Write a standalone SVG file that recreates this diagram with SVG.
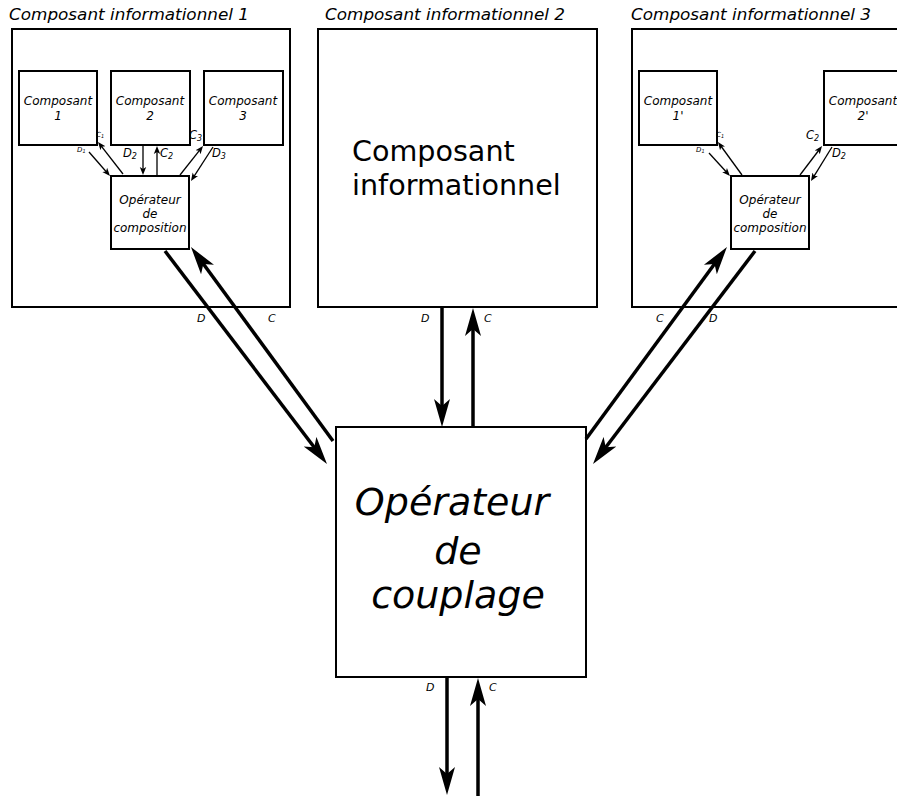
<svg xmlns="http://www.w3.org/2000/svg" width="897" height="796" viewBox="0 0 897 796">
<style>
.box{fill:#fff;stroke:#000;stroke-width:2}
.t{font-family:"DejaVu Sans","Liberation Sans",sans-serif;fill:#000}
.i{font-style:italic}
.big{fill:none;stroke:#000;stroke-width:3.5;marker-end:url(#ab)}
.sm{fill:none;stroke:#000;stroke-width:1.3;marker-end:url(#as)}
</style>
<defs>
<marker id="ab" viewBox="0 -9 30 18" markerWidth="30" markerHeight="18" markerUnits="userSpaceOnUse" refX="10" refY="0" orient="auto">
<path d="M28,0 L0,-8 L7,0 L0,8 Z" fill="#000"/>
</marker>
<marker id="as" viewBox="0 -4 9 8" markerWidth="9" markerHeight="8" markerUnits="userSpaceOnUse" refX="3" refY="0" orient="auto">
<path d="M8,0 L0,-3.2 L2,0 L0,3.2 Z" fill="#000"/>
</marker>
</defs>
<rect width="897" height="796" fill="#fff"/>

<g id="ci1">
<text class="t i" x="9" y="20" font-size="16" textLength="240" lengthAdjust="spacingAndGlyphs">Composant informationnel 1</text>
<rect class="box" x="12" y="29" width="278" height="278"/>
</g>
<g id="c1">
<rect class="box" x="19" y="71" width="78" height="74"/>
<text class="t i" x="58" y="105" font-size="12" text-anchor="middle">Composant</text>
<text class="t i" x="58" y="120" font-size="12" text-anchor="middle">1</text>
</g>
<g id="c2">
<rect class="box" x="111" y="71" width="79" height="74"/>
<text class="t i" x="150" y="105" font-size="12" text-anchor="middle">Composant</text>
<text class="t i" x="150" y="120" font-size="12" text-anchor="middle">2</text>
</g>
<g id="c3">
<rect class="box" x="204" y="71" width="79" height="74"/>
<text class="t i" x="243" y="105" font-size="12" text-anchor="middle">Composant</text>
<text class="t i" x="243" y="120" font-size="12" text-anchor="middle">3</text>
</g>
<g id="op1">
<rect class="box" x="111" y="176" width="78" height="73"/>
<text class="t i" x="150" y="204" font-size="12" text-anchor="middle">Opérateur</text>
<text class="t i" x="150" y="218" font-size="12" text-anchor="middle">de</text>
<text class="t i" x="150" y="232" font-size="12" text-anchor="middle">composition</text>
</g>

<g id="ci2">
<text class="t i" x="325" y="20" font-size="16" textLength="240" lengthAdjust="spacingAndGlyphs">Composant informationnel 2</text>
<rect class="box" x="318" y="29" width="279" height="278"/>
<text class="t" x="352" y="161" font-size="28.6">Composant</text>
<text class="t" x="352" y="195" font-size="28.6">informationnel</text>
</g>

<g id="ci3">
<text class="t i" x="631" y="20" font-size="16" textLength="240" lengthAdjust="spacingAndGlyphs">Composant informationnel 3</text>
<rect class="box" x="632" y="29" width="278" height="278"/>
</g>
<g id="c1p">
<rect class="box" x="639" y="71" width="78" height="74"/>
<text class="t i" x="678" y="105" font-size="12" text-anchor="middle">Composant</text>
<text class="t i" x="678" y="120" font-size="12" text-anchor="middle">1'</text>
</g>
<g id="c2p">
<rect class="box" x="824" y="71" width="78" height="74"/>
<text class="t i" x="863" y="105" font-size="12" text-anchor="middle">Composant</text>
<text class="t i" x="863" y="120" font-size="12" text-anchor="middle">2'</text>
</g>
<g id="op3">
<rect class="box" x="731" y="176" width="78" height="73"/>
<text class="t i" x="770" y="204" font-size="12" text-anchor="middle">Opérateur</text>
<text class="t i" x="770" y="218" font-size="12" text-anchor="middle">de</text>
<text class="t i" x="770" y="232" font-size="12" text-anchor="middle">composition</text>
</g>

<g id="couplage">
<rect class="box" x="336" y="427" width="250" height="250"/>
<text class="t i" x="452" y="515" font-size="38" text-anchor="middle">Opérateur</text>
<text class="t i" x="458" y="564" font-size="38" text-anchor="middle">de</text>
<text class="t i" x="458" y="608" font-size="38" text-anchor="middle">couplage</text>
</g>

<g id="connectors">
<line class="sm" x1="89" y1="152" x2="106.7" y2="172.2"/>
<line class="sm" x1="123" y1="174" x2="101.1" y2="145.9"/>
<line class="sm" x1="143" y1="145" x2="143" y2="170"/>
<line class="sm" x1="157" y1="176" x2="157" y2="151"/>
<line class="sm" x1="180" y1="175" x2="199.9" y2="149.9"/>
<line class="sm" x1="213" y1="147" x2="193.7" y2="176.8"/>

<line class="sm" x1="709" y1="153" x2="726.6" y2="172.3"/>
<line class="sm" x1="742" y1="175" x2="720.9" y2="146"/>
<line class="sm" x1="800" y1="175" x2="819" y2="150"/>
<line class="sm" x1="832" y1="147" x2="813.6" y2="176.8"/>

<line class="big" x1="165" y1="251" x2="316.1" y2="449.7"/>
<line class="big" x1="333" y1="441" x2="201.6" y2="261.5"/>
<line class="big" x1="442" y1="307" x2="442" y2="409"/>
<line class="big" x1="473" y1="427" x2="473" y2="326"/>
<line class="big" x1="586" y1="439" x2="716.3" y2="261.5"/>
<line class="big" x1="755" y1="251" x2="603.9" y2="449.7"/>
<line class="big" x1="447" y1="677" x2="447" y2="777"/>
<line class="big" x1="478" y1="796" x2="478" y2="696"/>

<g class="t i">
<text x="96" y="137" font-size="7">C<tspan font-size="5" dy="1">1</tspan></text>
<text x="77" y="152" font-size="7">D<tspan font-size="5" dy="1">1</tspan></text>
<text x="123" y="157" font-size="11.5">D<tspan font-size="8" dy="2">2</tspan></text>
<text x="160" y="157" font-size="11.5">C<tspan font-size="8" dy="2">2</tspan></text>
<text x="189" y="139" font-size="11.5">C<tspan font-size="8" dy="2">3</tspan></text>
<text x="212" y="157" font-size="11.5">D<tspan font-size="8" dy="2">3</tspan></text>

<text x="716" y="137" font-size="7">C<tspan font-size="5" dy="1">1</tspan></text>
<text x="696" y="152" font-size="7">D<tspan font-size="5" dy="1">1</tspan></text>
<text x="806" y="139" font-size="11.5">C<tspan font-size="8" dy="2">2</tspan></text>
<text x="832" y="157" font-size="11.5">D<tspan font-size="8" dy="2">2</tspan></text>

<text x="197" y="322" font-size="11">D</text>
<text x="268" y="322" font-size="11">C</text>
<text x="421" y="322" font-size="11">D</text>
<text x="484" y="322" font-size="11">C</text>
<text x="656" y="322" font-size="11">C</text>
<text x="709" y="322" font-size="11">D</text>
<text x="426" y="691" font-size="11">D</text>
<text x="489" y="691" font-size="11">C</text>
</g>
</g>
</svg>
